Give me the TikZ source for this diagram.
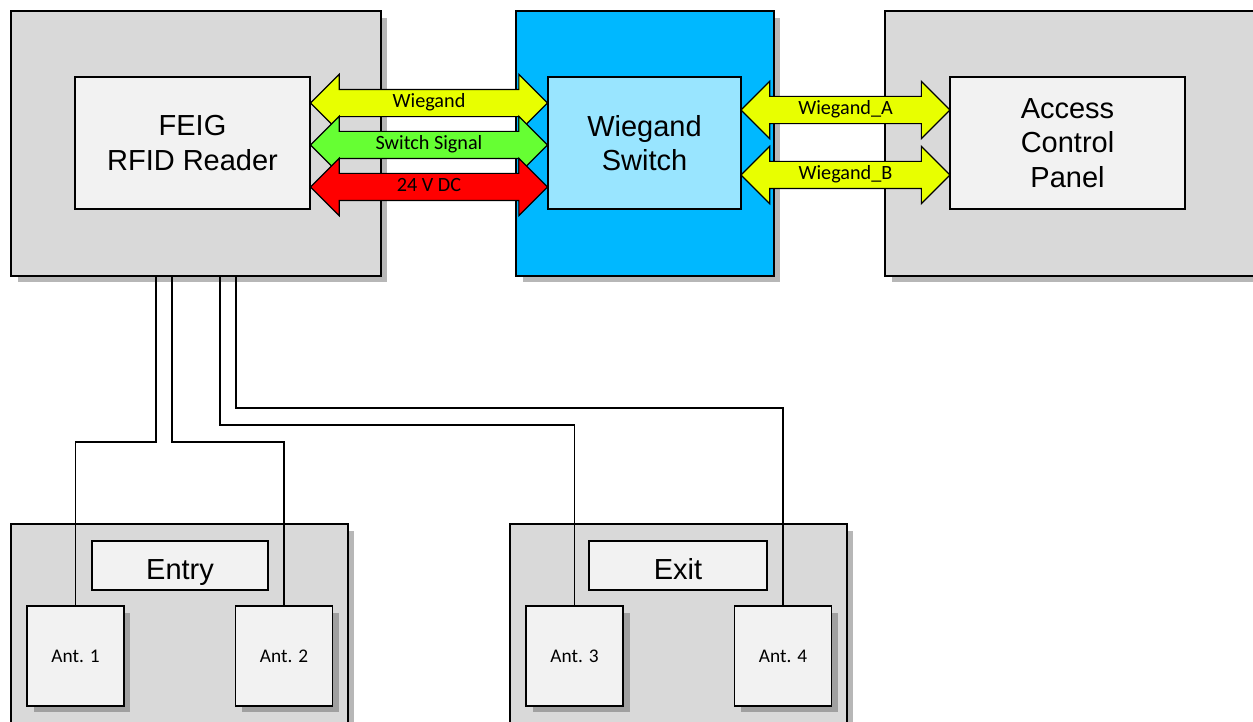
\documentclass[tikz,border=0pt]{standalone}
\usepackage{fontspec}
\setmainfont{Liberation Sans}
\newfontfamily\calibrifont{Carlito}
\usetikzlibrary{calc, shapes.arrows, shadows, positioning}

\definecolor{boxgray}{HTML}{D9D9D9}
\definecolor{innergray}{HTML}{F2F2F2}
\definecolor{swblue}{HTML}{00B8FF}
\definecolor{swlight}{HTML}{99E5FF}
\definecolor{wiegyellow}{HTML}{E8FF00}
\definecolor{siggreen}{HTML}{66FF33}
\definecolor{dcred}{HTML}{FF0000}

\tikzset{
	boxshadow/.style={drop shadow={shadow xshift=0.13cm, shadow yshift=-0.13cm, opacity=0.4, fill=black!70}},
	outerbox/.style={draw, line width=0.8pt, fill=boxgray, minimum height=5.3cm, boxshadow},
	innerbox/.style={draw, line width=0.8pt, fill=innergray, minimum height=2.64cm, align=center, font=\fontsize{16.5}{19.5}\selectfont},
	zonebox/.style={draw, line width=0.8pt, fill=boxgray, minimum width=6.74cm, minimum height=4.22cm, boxshadow},
	zonelabel/.style={draw, line width=0.8pt, fill=innergray, minimum height=0.98cm, text height=15.8pt, text depth=0pt, font=\fontsize{16.5}{19}\selectfont},
	antbox/.style={draw, line width=0.8pt, fill=innergray, minimum width=1.94cm, minimum height=2cm, boxshadow, font=\calibrifont\fontsize{11}{13}\selectfont},
	dblarrow/.style={double arrow, draw, line width=0.7pt, double arrow head extend=0.3cm, inner ysep=0pt, inner xsep=2pt, text height=9.95pt, text depth=4.85pt, font=\calibrifont\fontsize{11.5}{13}\selectfont},
	wire/.style={draw, line width=1pt}
}

\begin{document}
\begin{tikzpicture}[x=0.02cm, y=-0.02cm]
	\useasboundingbox (0,0) rectangle (1253,722);
	\clip (0,0) rectangle (1253,722);

% TOP ROW

	\node[outerbox, minimum width=7.4cm] (readerbox) at (196,143.5) {};
	\node[outerbox, minimum width=5.16cm, fill=swblue] (switchbox) at (645,143.5) {};
	\node[outerbox, minimum width=7.8cm] (panelbox) at (1080,143.5) {};

	\node[innerbox, minimum width=4.7cm] (reader) at (192.5,143) {FEIG\\RFID Reader};
	\node[innerbox, minimum width=3.86cm, fill=swlight] (switch) at (644.5,143) {Wiegand\\Switch};
	\node[innerbox, minimum width=4.7cm] (panel) at (1067.5,143) {Access\\Control\\Panel};

% BOTTOM ROW

	\node[zonebox] (entrybox) at (179.5,629.5) {};
	\node[zonebox] (exitbox) at (678.5,629.5) {};

	\node[zonelabel, minimum width=3.52cm] (entry) at (180,565.5) {Entry};
	\node[zonelabel, minimum width=3.56cm] (exit) at (678,565.5) {Exit};

	\node[antbox] (ant1) at (75.5,656) {Ant. 1};
	\node[antbox] (ant2) at (284,656) {Ant. 2};
	\node[antbox] (ant3) at (574.5,656) {Ant. 3};
	\node[antbox] (ant4) at (783,656) {Ant. 4};

% ANTENNA CABLES

	\draw[wire] ([xshift=-0.8cm]readerbox.south) -- ++(0,165) -| (ant1.north);
	\draw[wire] ([xshift=-0.48cm]readerbox.south) -- ++(0,165) -| (ant2.north);
	\draw[wire] ([xshift=0.48cm]readerbox.south) -- ++(0,148) -| (ant3.north);
	\draw[wire] ([xshift=0.8cm]readerbox.south) -- ++(0,131) -| (ant4.north);

% SIGNALS

	% reader <-> switch
	\node[dblarrow, fill=wiegyellow, minimum height=4.74cm] (wiegand)
		at ([yshift=0.8cm]$(reader.east)!0.5!(switch.west)$) {Wiegand};
	\node[dblarrow, fill=siggreen, minimum height=4.74cm] (signal)
		at ([yshift=-0.04cm]$(reader.east)!0.5!(switch.west)$) {Switch Signal};
	\node[dblarrow, fill=dcred, minimum height=4.74cm] (power)
		at ([yshift=-0.88cm]$(reader.east)!0.5!(switch.west)$) {24 V DC};

	% switch <-> panel
	\node[dblarrow, fill=wiegyellow, minimum height=4.18cm] (wiegA)
		at ([yshift=0.66cm]$(switch.east)!0.5!(panel.west)$) {Wiegand\_A};
	\node[dblarrow, fill=wiegyellow, minimum height=4.18cm] (wiegB)
		at ([yshift=-0.64cm]$(switch.east)!0.5!(panel.west)$) {Wiegand\_B};

\end{tikzpicture}
\end{document}
